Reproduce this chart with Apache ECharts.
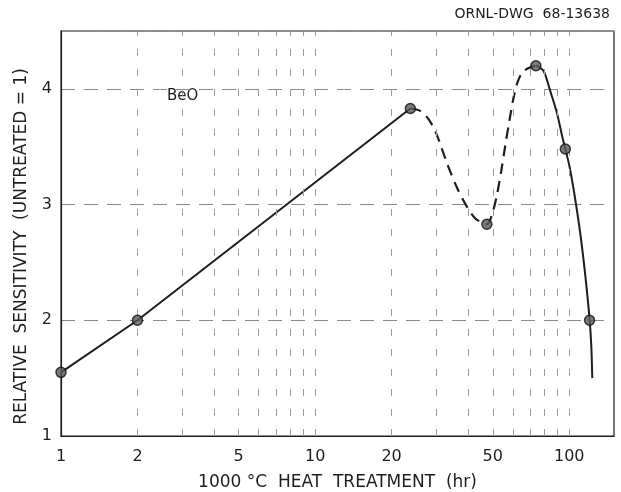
<!DOCTYPE html>
<html>
<head>
<meta charset="utf-8">
<script src="https://cdn.jsdelivr.net/npm/echarts@6/dist/echarts.min.js"></script>
<style>
    html, body { margin: 0; padding: 0; background: #fff; }
    #chart { width: 621px; height: 492px; }
</style>
</head>
<body>
<div id="chart"></div>
<script>
let xLabelValues = [1, 2, 5, 10, 20, 50, 100];
let xGridValues = [2, 3, 4, 5, 6, 7, 8, 9, 10, 20, 30, 40, 50, 60, 70, 80, 90, 100];
let yLabelValues = [1, 2, 3, 4];

// measured points (hr, relative sensitivity)
let pointHours = [1, 2, 23.7, 47.4, 73.9, 96.5, 120.2];
let pointSens = [1.55, 2.0, 3.83, 2.83, 4.20, 3.48, 2.0];

// solid straight part
let riseHours = [1, 2, 23.7];
let riseSens = [1.55, 2.0, 3.83];

// dashed part
let dashHours = [23.7, 25.9, 27.9, 29.9, 33.0, 36.1, 39.6, 42.7, 47.4, 50.2, 52.1, 54.0, 56.0, 58.1, 60.2, 62.4, 65.3, 69.2, 73.9];
let dashSens = [3.83, 3.81, 3.74, 3.62, 3.36, 3.15, 2.98, 2.88, 2.83, 2.95, 3.10, 3.29, 3.51, 3.72, 3.91, 4.05, 4.14, 4.18, 4.20];

// solid falling part
let fallHours = [73.9, 79.2, 84.2, 89.5, 93.8, 96.5, 100, 104.6, 110.5, 115.6, 120.2, 122.1, 123.2];
let fallSens = [4.20, 4.155, 3.98, 3.79, 3.59, 3.48, 3.34, 3.10, 2.75, 2.39, 2.01, 1.78, 1.50];

function pairs(xs, ys) {
    return xs.map(function (x, i) { return [x, ys[i]]; });
}

let fontName = 'DejaVu Sans';
let inkColor = '#1e1e1e';

let myChart = echarts.init(document.getElementById('chart'), null, { renderer: 'canvas' });

let option = {
    backgroundColor: '#fff',
    animation: false,
    title: {
        text: 'ORNL-DWG  68-13638',
        right: 6,
        top: 2,
        textStyle: { fontFamily: fontName, fontSize: 14, fontWeight: 'normal', color: inkColor }
    },
    grid: {
        left: 61,
        right: 7,
        top: 31,
        bottom: 56,
        outerBoundsMode: 'none',
        containLabel: false,
        show: true,
        borderColor: inkColor,
        borderWidth: 1.2
    },
    graphic: [{
        type: 'text',
        left: 167,
        top: 89,
        style: { text: 'BeO', font: '15px "DejaVu Sans"', fill: inkColor }
    }],
    xAxis: {
        type: 'log',
        logBase: 10,
        min: 1,
        max: 150,
        name: '1000 °C  HEAT  TREATMENT  (hr)',
        nameLocation: 'middle',
        nameGap: 38,
        nameTextStyle: { fontFamily: fontName, fontSize: 17, color: inkColor },
        axisLine: { show: true, lineStyle: { color: inkColor, width: 1.2 } },
        axisTick: { show: false },
        splitLine: { show: false },
        minorTick: { show: false },
        axisLabel: {
            customValues: xLabelValues,
            margin: 13,
            fontFamily: fontName,
            fontSize: 16,
            color: inkColor,
            formatter: function (v) { return String(Math.round(v)); }
        }
    },
    yAxis: {
        type: 'value',
        min: 1,
        max: 4.5,
        interval: 1,
        name: 'RELATIVE  SENSITIVITY  (UNTREATED = 1)',
        nameLocation: 'middle',
        nameGap: 31,
        nameTextStyle: { fontFamily: fontName, fontSize: 17, color: inkColor, padding: [0, 26, 0, 0] },
        axisLine: { show: true, lineStyle: { color: inkColor, width: 1.2 } },
        axisTick: { show: false },
        axisLabel: {
            margin: 9,
            fontFamily: fontName,
            fontSize: 16,
            color: inkColor,
            formatter: function (v) { return yLabelValues.indexOf(v) >= 0 ? String(v) : ''; }
        },
        splitLine: { show: true, lineStyle: { color: '#8a8a8a', width: 1, type: [14, 9] } }
    },
    series: [
        {
            name: 'rise',
            type: 'line',
            data: pairs(riseHours, riseSens),
            symbol: 'none',
            lineStyle: { color: inkColor, width: 2 },
            z: 3,
            markLine: {
                silent: true,
                symbol: ['none', 'none'],
                label: { show: false },
                lineStyle: { color: '#9a9a9a', width: 1, type: [7, 13] },
                data: xGridValues.map(function (v) { return { xAxis: v }; })
            }
        },
        {
            name: 'dip',
            type: 'line',
            data: pairs(dashHours, dashSens),
            symbol: 'none',
            smooth: 0.3,
            lineStyle: { color: inkColor, width: 2.2, type: [11, 7] },
            z: 3
        },
        {
            name: 'fall',
            type: 'line',
            data: pairs(fallHours, fallSens),
            symbol: 'none',
            smooth: 0.3,
            lineStyle: { color: inkColor, width: 2 },
            z: 3
        },
        {
            name: 'points',
            type: 'scatter',
            data: pairs(pointHours, pointSens),
            symbol: 'circle',
            symbolSize: 10,
            itemStyle: { color: '#5a5a5a', borderColor: '#111', borderWidth: 1.5 },
            z: 5
        }
    ]
};

myChart.setOption(option);
</script>
</body>
</html>
